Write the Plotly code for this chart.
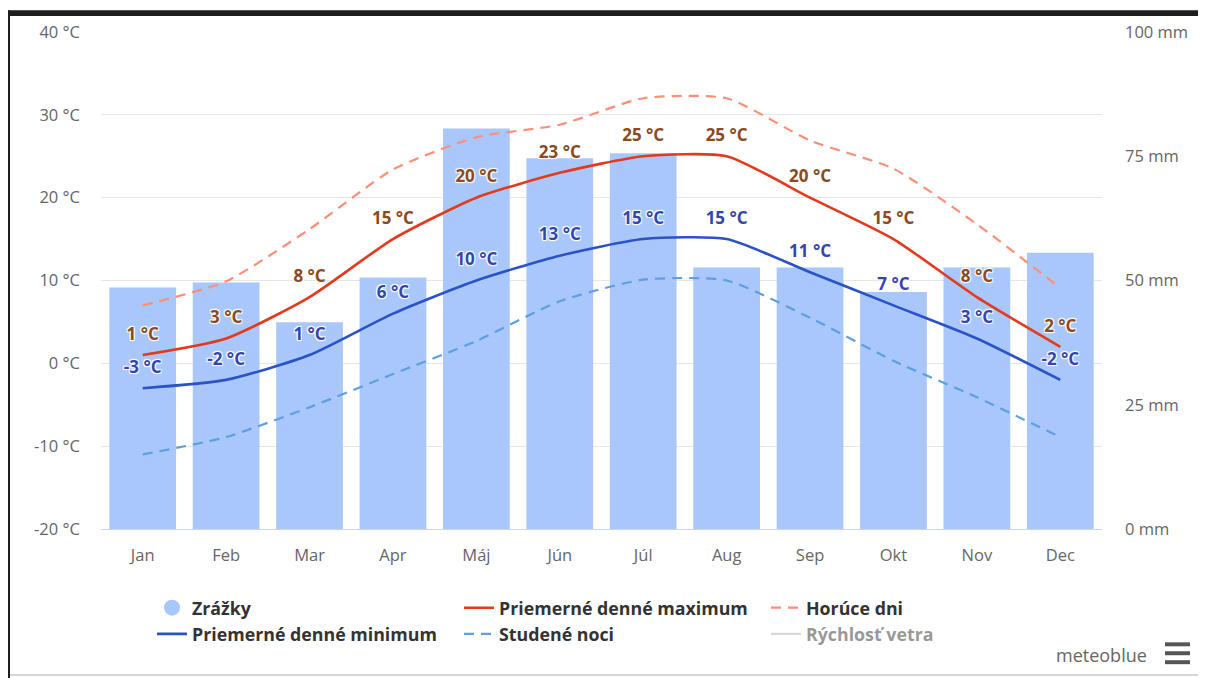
import plotly.graph_objects as go

months = ["Jan", "Feb", "Mar", "Apr", "Máj", "Jún", "Júl", "Aug", "Sep", "Okt", "Nov", "Dec"]
precip_mm = [48.6, 49.6, 41.6, 50.6, 80.6, 74.6, 75.6, 52.6, 52.6, 47.7, 52.6, 55.6]
temp_max = [1, 3, 8, 15, 20, 23, 25, 25, 20, 15, 8, 2]
temp_min = [-3, -2, 1, 6, 10, 13, 15, 15, 11, 7, 3, -2]
hot_days = [7.0, 9.9, 16.2, 23.4, 27.3, 28.8, 32.0, 32.0, 26.9, 23.5, 16.8, 9.1]
cold_nights = [-11.0, -8.9, -5.3, -1.3, 2.7, 7.5, 10.1, 10.0, 5.5, 0.3, -4.1, -8.9]
wind_speed = [None]  # series hidden in the reference (legend only)

temp_ticks = [-20, -10, 0, 10, 20, 30, 40]
mm_ticks = [0, 25, 50, 75, 100]

FONT = "Open Sans"
# the page body has an 8px margin; work in screenshot pixels and shift
OFF = 8
W_IMG, H_IMG = 1206 - OFF, 678 - OFF
L, R, T, B = 101 - OFF, 1102 - OFF, 29 - OFF, 529 - OFF


def px2x(px):
    return (px - OFF - L) / (R - L)


def py2y(py):
    return (B - (py - OFF)) / (B - T)


fig = go.Figure()

fig.add_trace(go.Bar(
    x=months, y=precip_mm, name="Zrážky", yaxis="y",
    marker=dict(color="#a9c7fb", line=dict(width=0)),
    showlegend=False, legendgroup="p",
))

label_shadow = "1px 1px 1px white, -1px -1px 1px white, 1px -1px 1px white, -1px 1px 1px white"
SMOOTH = 0.6

fig.add_trace(go.Scatter(
    x=[None], y=[None], name="Zrážky", mode="markers", legendgroup="p",
    marker=dict(symbol="circle", size=19, color="#a9c7fb"), yaxis="y2",
))
fig.add_trace(go.Scatter(
    x=months, y=temp_max, name="Priemerné denné maximum", yaxis="y2", mode="lines",
    line=dict(color="#e4391b", width=2.6, shape="spline", smoothing=SMOOTH),
))
fig.add_trace(go.Scatter(
    x=months, y=hot_days, name="Horúce dni", yaxis="y2", mode="lines",
    line=dict(color="#fd8f78", width=2.2, dash="10px,7px", shape="spline", smoothing=SMOOTH),
))
fig.add_trace(go.Scatter(
    x=months, y=temp_min, name="Priemerné denné minimum", yaxis="y2", mode="lines",
    line=dict(color="#2a52c9", width=2.6, shape="spline", smoothing=SMOOTH),
))
fig.add_trace(go.Scatter(
    x=months, y=cold_nights, name="Studené noci", yaxis="y2", mode="lines",
    line=dict(color="#5d9fe2", width=2.2, dash="10px,7px", shape="spline", smoothing=SMOOTH),
))
fig.add_trace(go.Scatter(
    x=wind_speed, y=wind_speed, name="Rýchlosť vetra", yaxis="y2", mode="lines",
    line=dict(color="#aaaaaa", width=2), visible="legendonly",
))
# data labels
fig.add_trace(go.Scatter(
    x=months, y=temp_max, yaxis="y2", mode="markers+text", showlegend=False, hoverinfo="skip",
    marker=dict(size=16, opacity=0),
    text=[f"{v} °C" for v in temp_max], textposition="top center",
    textfont=dict(family=FONT, size=17, color="#8a4a22", weight="bold", shadow=label_shadow),
))
fig.add_trace(go.Scatter(
    x=months, y=temp_min, yaxis="y2", mode="markers+text", showlegend=False, hoverinfo="skip",
    marker=dict(size=16, opacity=0),
    text=[f"{v} °C" for v in temp_min], textposition="top center",
    textfont=dict(family=FONT, size=17, color="#3346b0", weight="bold", shadow=label_shadow),
))

shapes = [
    # dark frame of the screenshot
    dict(type="rect", xref="paper", yref="paper", x0=px2x(7), x1=px2x(1210), y0=py2y(13), y1=py2y(7),
         fillcolor="#1e1e1e", line=dict(width=0), layer="above"),
    dict(type="rect", xref="paper", yref="paper", x0=px2x(7), x1=px2x(10), y0=py2y(680), y1=py2y(7),
         fillcolor="#1e1e1e", line=dict(width=0), layer="above"),
    dict(type="line", xref="paper", yref="paper", x0=px2x(10), x1=px2x(1210), y0=py2y(676), y1=py2y(676),
         line=dict(color="#c8c8c8", width=1.5)),
]
# hamburger menu icon
for yy in (645, 654, 663):
    shapes.append(dict(type="rect", xref="paper", yref="paper", x0=px2x(1165), x1=px2x(1190),
                       y0=py2y(yy + 2), y1=py2y(yy - 2), fillcolor="#555555", line=dict(width=0)))

fig.update_layout(
    width=W_IMG, height=H_IMG,
    margin=dict(l=L, r=W_IMG - R, t=T, b=H_IMG - B, pad=0),
    paper_bgcolor="white", plot_bgcolor="white",
    font=dict(family=FONT, color="#666666", size=16),
    barmode="overlay", bargap=0.2,
    showlegend=True,
    legend=dict(
        orientation="h", x=px2x(152), xanchor="left", y=py2y(590), yanchor="top",
        font=dict(family=FONT, size=17.8, color="#333333", weight="bold"),
        entrywidth=262, traceorder="normal", itemsizing="trace",
        bgcolor="rgba(0,0,0,0)", tracegroupgap=0,
    ),
    xaxis=dict(
        type="category", range=[-0.5, 11.5], showgrid=False, ticks="",
        showline=True, linecolor="#ccd6eb", linewidth=1,
        tickfont=dict(family=FONT, size=16.5, color="#666666"), ticklabelstandoff=11,
        fixedrange=True,
    ),
    yaxis=dict(
        side="right", range=[0, 100], tickvals=mm_ticks,
        ticktext=[f"{v} mm" for v in mm_ticks],
        showgrid=False, zeroline=False, showline=False, ticks="",
        tickfont=dict(family=FONT, size=16.5, color="#666666"), ticklabelstandoff=22,
    ),
    yaxis2=dict(
        side="left", overlaying="y", range=[-20, 40], tickvals=temp_ticks,
        ticktext=[f"{v} °C" for v in temp_ticks],
        showgrid=True, gridcolor="#e6e6e6", gridwidth=1, zeroline=False, showline=False, ticks="",
        tickfont=dict(family=FONT, size=16.5, color="#666666"), ticklabelstandoff=20,
    ),
    shapes=shapes,
    annotations=[dict(
        text="meteoblue", xref="paper", yref="paper", x=px2x(1149), y=py2y(656),
        xanchor="right", yanchor="middle", showarrow=False,
        font=dict(family=FONT, size=18, color="#666666"),
    )],
)

fig.write_html("out.html")
